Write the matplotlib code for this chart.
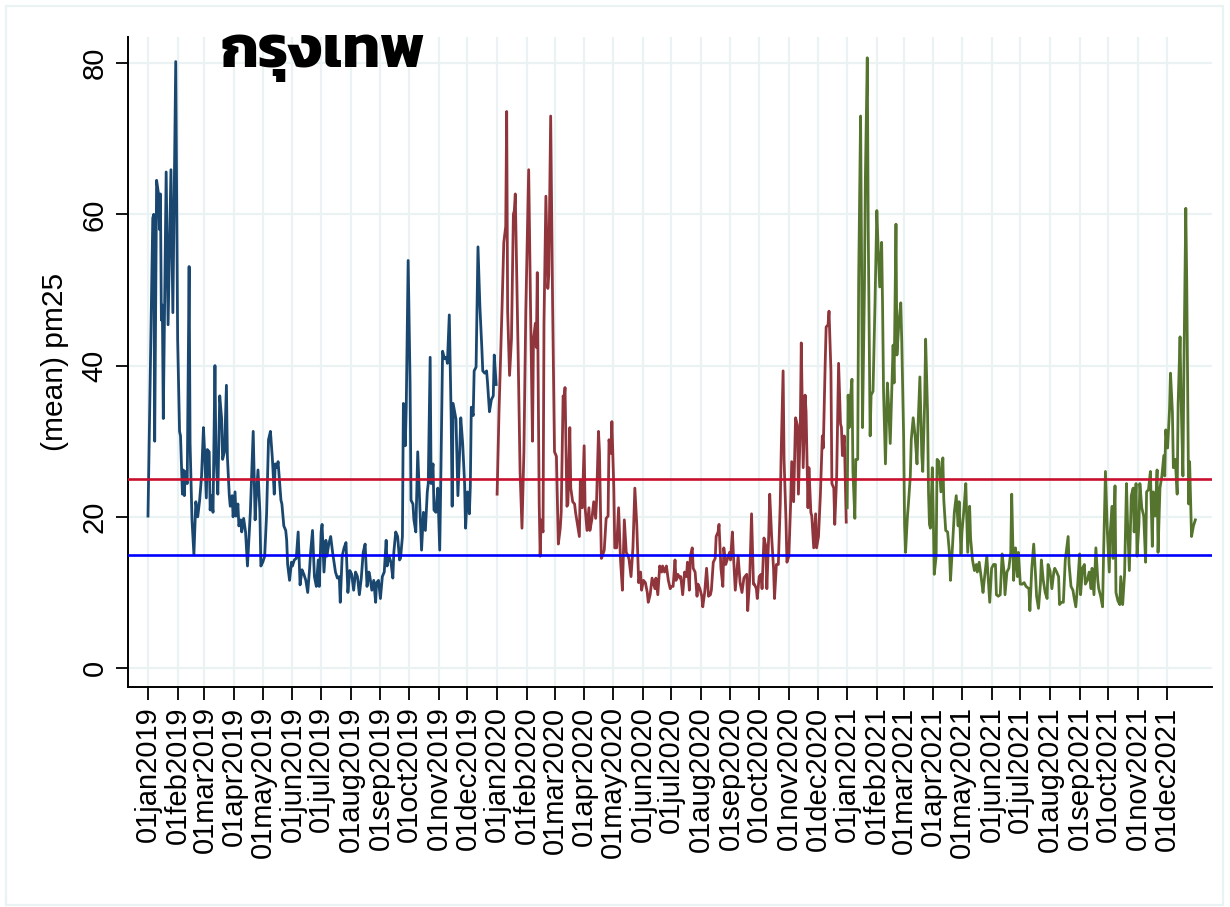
import pandas as pd
import matplotlib
matplotlib.use("Agg")
import matplotlib.pyplot as plt
from matplotlib import font_manager
from matplotlib.patches import Rectangle

# daily mean pm2.5 for Bangkok: day of year -> value
day_2019 = [0, 5, 6, 7, 9, 11, 12, 13, 14, 15, 16, 19, 21, 24, 26, 29, 31, 33, 34, 36,
            37, 38, 39, 41, 43, 44, 46, 48, 50, 52, 54, 56, 58, 59, 61, 62, 64, 65, 66, 68,
            70, 71, 73, 75, 77, 78, 80, 82, 83, 85, 86, 88, 89, 91, 92, 94, 95, 97, 98, 100,
            102, 104, 105, 107, 110, 112, 113, 115, 117, 118, 120, 122, 124, 126, 128, 130, 132, 133, 135, 136,
            139, 140, 142, 144, 145, 146, 148, 150, 151, 153, 155, 157, 159, 161, 163, 165, 167, 169, 170, 172,
            174, 176, 178, 179, 181, 182, 184, 186, 187, 189, 191, 193, 196, 198, 200, 201, 203, 205, 207, 209,
            211, 213, 215, 217, 219, 221, 223, 225, 227, 229, 231, 232, 234, 236, 238, 239, 241, 243, 245, 247,
            249, 250, 252, 254, 256, 257, 259, 261, 263, 264, 266, 267, 269, 270, 272, 274, 275, 277, 278, 280,
            282, 284, 286, 288, 290, 292, 293, 295, 296, 298, 299, 301, 303, 305, 306, 308, 310, 312, 313, 315,
            317, 318, 319, 322, 324, 326, 327, 329, 331, 332, 334, 336, 337, 338, 340, 341, 343, 345, 347, 349,
            350, 352, 354, 355, 357, 359, 361, 362, 364]
pm25_2019 = [20.1, 59.5, 60, 30, 64.5, 62.7, 58, 62.7, 46, 48, 33, 65.6, 45.4, 65.9, 47, 80.2, 43.5, 31.3, 30.7, 23,
             26.2, 22.8, 26, 24.4, 53.1, 29.7, 19.6, 15, 22, 20, 22.2, 25.4, 31.8, 29.1, 22.5, 28.9, 28.6, 20.9, 22.8, 20.6,
             40, 28.6, 23, 36, 33, 27.6, 28.6, 37.4, 28, 22.8, 21.4, 22.8, 20, 23.3, 20.1, 21.7, 18.8, 19.6, 18, 19.8,
             18, 13.5, 15.9, 20.6, 31.3, 19.6, 22.2, 26.2, 20.6, 13.5, 14, 14.8, 20.4, 30.2, 31.3, 27.8, 23, 27, 26.5, 27.3,
             22.2, 21.7, 18.8, 18.2, 16.9, 13.7, 11.6, 14, 13.5, 14.3, 14.5, 18, 11, 13, 12.4, 11.6, 10, 13.2, 15.3, 18.2,
             12.1, 10.8, 14.3, 10.8, 18, 19, 12.7, 16.9, 14.8, 16.4, 17.4, 15.3, 12.7, 11.9, 12.1, 8.7, 14.8, 15.9, 16.6, 10,
             12.9, 12.4, 10.3, 12.7, 12.1, 9.7, 11.9, 15.3, 16.4, 10.8, 12.7, 12.1, 10.3, 11.6, 8.7, 11.3, 11.6, 9.2, 12.1, 12.7,
             16.9, 13.5, 14.8, 14, 11.9, 15.3, 18, 17.4, 14.3, 14.5, 17.4, 35, 29.4, 34.5, 53.9, 37.7, 22.2, 21.7, 19.6, 18,
             28.6, 22.2, 15.6, 20.6, 18.2, 23.3, 24.4, 41.1, 24.4, 27, 20.9, 20.6, 23.8, 15.6, 23.8, 41.9, 40.9, 41.1, 40.3, 46.7,
             32.9, 21.4, 35, 32.9, 22.8, 29.1, 33.1, 29.7, 24.4, 18.5, 23.3, 20.4, 24.1, 34.5, 33.4, 39.3, 39.8, 55.7, 47.8, 42.4,
             39.3, 39, 39.3, 37.7, 33.9, 35.5, 36, 41.4, 37.5]

day_2020 = [0, 2, 5, 7, 9, 10, 11, 13, 15, 17, 18, 19, 22, 24, 26, 28, 30, 33, 35, 37,
            38, 40, 41, 42, 44, 45, 46, 48, 49, 51, 53, 54, 56, 58, 60, 62, 64, 66, 67, 69,
            70, 71, 73, 74, 76, 77, 79, 81, 82, 84, 86, 87, 89, 91, 92, 94, 96, 97, 99, 101,
            103, 104, 106, 107, 109, 110, 112, 114, 116, 117, 119, 120, 122, 123, 125, 127, 129, 131, 133, 135,
            137, 138, 140, 142, 144, 146, 148, 150, 151, 153, 155, 157, 158, 160, 162, 165, 166, 168, 170, 172,
            173, 175, 177, 179, 181, 182, 184, 186, 187, 189, 191, 192, 194, 196, 198, 199, 201, 202, 204, 205,
            207, 209, 210, 212, 214, 215, 217, 219, 221, 223, 224, 226, 228, 229, 231, 232, 234, 236, 237, 239,
            241, 243, 244, 246, 247, 249, 251, 252, 254, 256, 258, 259, 261, 262, 264, 266, 268, 269, 271, 272,
            274, 276, 277, 279, 281, 282, 284, 285, 287, 289, 290, 292, 294, 296, 297, 299, 300, 302, 303, 305,
            307, 308, 310, 312, 314, 315, 317, 318, 320, 322, 323, 325, 326, 328, 329, 331, 333, 334, 336, 338,
            340, 341, 343, 344, 346, 347, 349, 350, 352, 353, 355, 357, 359, 360, 361, 363, 365]
pm25_2020 = [23, 34, 47, 56.3, 58.4, 73.6, 47.2, 38.7, 43.5, 60, 60.5, 62.7, 41.4, 26, 18.5, 28.6, 47.2, 65.9, 47.2, 30,
             43.5, 45.6, 42.4, 52.3, 21.7, 14.8, 19.6, 18, 45.6, 62.4, 50.2, 52, 73, 48.3, 28.6, 28, 16.4, 18.5, 20.6, 36,
             35.5, 37.1, 21.4, 21.7, 31.8, 23.8, 22, 21.7, 20.6, 19, 17.4, 24.9, 21.2, 29.4, 21.2, 18.2, 21.2, 18.2, 19.6, 22,
             19.8, 22.2, 31.3, 28.6, 14.5, 14.8, 15.6, 19.8, 20.1, 30.2, 28.4, 32.6, 23.8, 15.9, 15.9, 21.2, 14.3, 10.3, 19.6, 15.3,
             14.8, 14.3, 12.1, 15.9, 23.8, 19, 11.3, 12.7, 10.3, 11.6, 11.3, 10, 8.7, 9.7, 11.9, 10.5, 11.9, 9.7, 13.5, 12.7,
             13.5, 12.7, 13.5, 11.6, 10.5, 10.8, 10.8, 14.3, 11.6, 12.4, 11.9, 12.1, 9.7, 12.7, 12.1, 14, 10.3, 14.8, 15.9, 13.2,
             12.7, 9.5, 11.1, 10.5, 9.5, 8.1, 10, 13.2, 9.5, 9.7, 10.3, 14, 14.5, 17.4, 18, 19, 13.2, 10.8, 15.9, 13.7,
             14.5, 15.3, 14.3, 18, 15.1, 10.3, 13.2, 14.8, 11.3, 10, 11.9, 12.1, 12.4, 7.6, 11.6, 20.4, 11.1, 11.1, 10.5, 9.2,
             12.1, 12.4, 10.5, 17.2, 16.1, 10.5, 17.7, 23, 17.4, 13.2, 9.2, 13.7, 13.7, 21.7, 28.6, 39.3, 27.6, 19.6, 14, 14.8,
             22.2, 27.3, 22, 33.1, 32.1, 23, 32.1, 43, 26.5, 36.1, 33.9, 21.2, 26.5, 20.6, 20.1, 15.9, 20.4, 15.9, 17.4, 23,
             30.7, 29.1, 40.3, 45.1, 45.4, 47.2, 39.3, 24.4, 23.8, 19, 25.4, 40.3, 32.3, 31.8, 28.1, 30.7, 19.3]

day_2021 = [0, 1, 2, 3, 5, 6, 8, 9, 11, 12, 14, 15, 16, 18, 19, 21, 22, 24, 25, 27,
            29, 31, 32, 34, 36, 37, 38, 40, 42, 43, 45, 46, 48, 49, 51, 52, 54, 56, 57, 59,
            60, 61, 63, 64, 66, 67, 69, 71, 73, 74, 76, 78, 79, 81, 82, 84, 85, 86, 87, 89,
            90, 91, 93, 94, 96, 98, 100, 101, 103, 105, 107, 108, 110, 112, 114, 116, 117, 119, 120, 122,
            124, 126, 128, 129, 131, 133, 135, 136, 138, 140, 142, 143, 146, 148, 149, 151, 153, 155, 156, 158,
            160, 162, 164, 165, 167, 169, 171, 172, 174, 176, 178, 179, 181, 183, 185, 187, 190, 191, 193, 195,
            197, 198, 200, 202, 203, 205, 207, 209, 210, 212, 214, 216, 217, 219, 221, 222, 224, 226, 228, 229,
            231, 232, 234, 236, 237, 239, 241, 243, 244, 246, 248, 249, 251, 253, 255, 256, 258, 260, 262, 263,
            265, 267, 268, 270, 272, 274, 275, 277, 278, 280, 281, 283, 285, 286, 288, 290, 292, 293, 295, 297,
            299, 300, 302, 303, 305, 306, 308, 310, 312, 313, 315, 317, 319, 320, 322, 324, 325, 327, 329, 331,
            332, 333, 335, 337, 338, 340, 341, 343, 345, 346, 348, 349, 351, 352, 354, 355, 357, 358, 360, 362,
            364]
pm25_2021 = [21.2, 36.1, 31.8, 35, 38.2, 26, 19.8, 27.6, 27.6, 51.5, 73, 54.7, 31.8, 49.9, 64.8, 80.7, 57.9, 30.7, 36.1, 36.6,
             47.8, 60.5, 56.8, 50.4, 56.3, 47.8, 36.6, 27, 37.7, 35.5, 29.7, 33.9, 42.7, 37.7, 58.7, 41.4, 45.6, 48.3, 43.5, 30.7,
             19, 15.3, 20.1, 21.7, 25.4, 30.2, 33.1, 30.7, 27, 31.8, 38.5, 28.1, 26, 35.3, 43.5, 33.9, 23.3, 19, 18.5, 26.5,
             20.1, 12.4, 14.8, 27.6, 27.3, 23.3, 27.8, 22.2, 18.2, 18, 15.1, 11.6, 15.9, 20.6, 22.8, 18.8, 22, 15.1, 18, 20.9,
             24.4, 15.3, 21.4, 17.2, 14.3, 12.9, 13.7, 12.7, 14, 12.1, 10, 11.3, 14.8, 10.8, 8.7, 13.2, 13.7, 13.7, 9.7, 9.5,
             9.7, 15.1, 12.7, 9.7, 12.7, 13.2, 15.3, 23, 11.6, 15.9, 12.1, 15.3, 11.1, 11.1, 11.3, 10.8, 10.5, 7.6, 13.2, 16.4,
             12.1, 9.5, 7.9, 11.1, 14.3, 11.6, 10, 9.2, 13.7, 12.9, 10.5, 12.7, 13.2, 12.7, 12.1, 8.4, 8.7, 8.7, 14.3, 15.3,
             17.4, 13.7, 10.8, 10.3, 9.5, 8.1, 11.1, 15.1, 9.7, 13.2, 13.7, 11.1, 11.6, 12.7, 10.5, 13.2, 9.7, 15.9, 11.6, 10.5,
             9.5, 8.1, 14.8, 26, 18, 12.7, 18, 21.4, 14.5, 24.1, 10, 8.9, 8.4, 12.1, 8.4, 12.4, 24.4, 19.6, 12.9, 22.8,
             23.8, 18, 24.4, 14.8, 19, 24.4, 21.2, 20.1, 14, 23.3, 23.6, 26, 16.1, 23.3, 20.1, 26.2, 15.3, 23.8, 25.4, 28.1,
             25.4, 31.5, 29.1, 34.2, 39, 33.9, 26.5, 27.6, 23, 35, 43.8, 36.1, 25.4, 39.3, 60.8, 51, 21.7, 27.3, 17.4, 18.8,
             19.6]

series = [(2019, day_2019, pm25_2019, "#1a476f"),
          (2020, day_2020, pm25_2020, "#90353b"),
          (2021, day_2021, pm25_2021, "#55752f")]

who_limit = 15        # blue reference line
thai_limit = 25       # red reference line
title = "กรุงเทพ"


def thai_font():
    # a bold loopless Thai face, closest to the one in the original
    prefer = ["Noto Sans Thai", "Kanit", "Prompt", "Mitr"]
    bold = {}
    for f in font_manager.fontManager.ttflist:
        if f.name in prefer and f.style == "normal" and f.weight == 700:
            bold.setdefault(f.name, f.fname)
    for name in prefer:
        if name in bold:
            return bold[name]
    return None


plt.rcParams["font.family"] = ["Liberation Sans", "DejaVu Sans"]

fig = plt.figure(figsize=(12.3, 9.07), dpi=100)
ax = fig.add_axes([128 / 1230, 1 - 687 / 907, (1212 - 128) / 1230, (687 - 37) / 907])

grid = "#eaf2f3"
for year, days, vals, color in series:
    x = pd.Timestamp(f"{year}-01-01") + pd.to_timedelta(days, unit="D")
    ax.plot(x, vals, color=color, lw=2.0, zorder=3)

ax.axhline(thai_limit, color="#c8102e", lw=1.9, zorder=4)
ax.axhline(who_limit, color="#0000ff", lw=1.9, zorder=4)

start = pd.Timestamp("2019-01-01")
ax.set_xlim(start - pd.Timedelta(days=20.9), start + pd.Timedelta(days=1112.4))
ax.set_ylim(-2.5, 83.45)

months = pd.date_range("2019-01-01", "2021-12-01", freq="MS")
ax.set_xticks(months)
ax.set_xticklabels([m.strftime("%d%b%Y").lower() for m in months], rotation=90,
                   ha="center", va="top", fontsize=21)
ax.set_yticks([0, 20, 40, 60, 80])
ax.set_yticklabels(["0", "20", "40", "60", "80"], rotation=90, va="center", fontsize=21)
ax.tick_params(axis="both", direction="out", length=9, width=1.3, color="black", pad=5)

ax.grid(True, color=grid, lw=1.6, zorder=0)
ax.set_axisbelow(True)
for side in ["top", "right"]:
    ax.spines[side].set_visible(False)
for side in ["left", "bottom"]:
    ax.spines[side].set_linewidth(1.4)

ax.set_ylabel("(mean) pm25", fontsize=21.5, labelpad=8)

fname = thai_font()
if fname:
    fp = font_manager.FontProperties(fname=fname, size=43)
    fig.text(323 / 1230, 1 - 67 / 907, title, ha="center", va="baseline", fontproperties=fp)
else:
    fig.text(323 / 1230, 1 - 67 / 907, title, ha="center", va="baseline", fontsize=43,
             fontweight="bold", family=["Noto Sans", "DejaVu Sans"])

# light frame round the whole graph region, as in Stata's s2color scheme
fig.patches.append(Rectangle((6 / 1230, 2 / 907), 1217 / 1230, 899 / 907, transform=fig.transFigure,
                             fill=False, edgecolor=grid, lw=1.6))

fig.savefig("out.png", dpi=100)
